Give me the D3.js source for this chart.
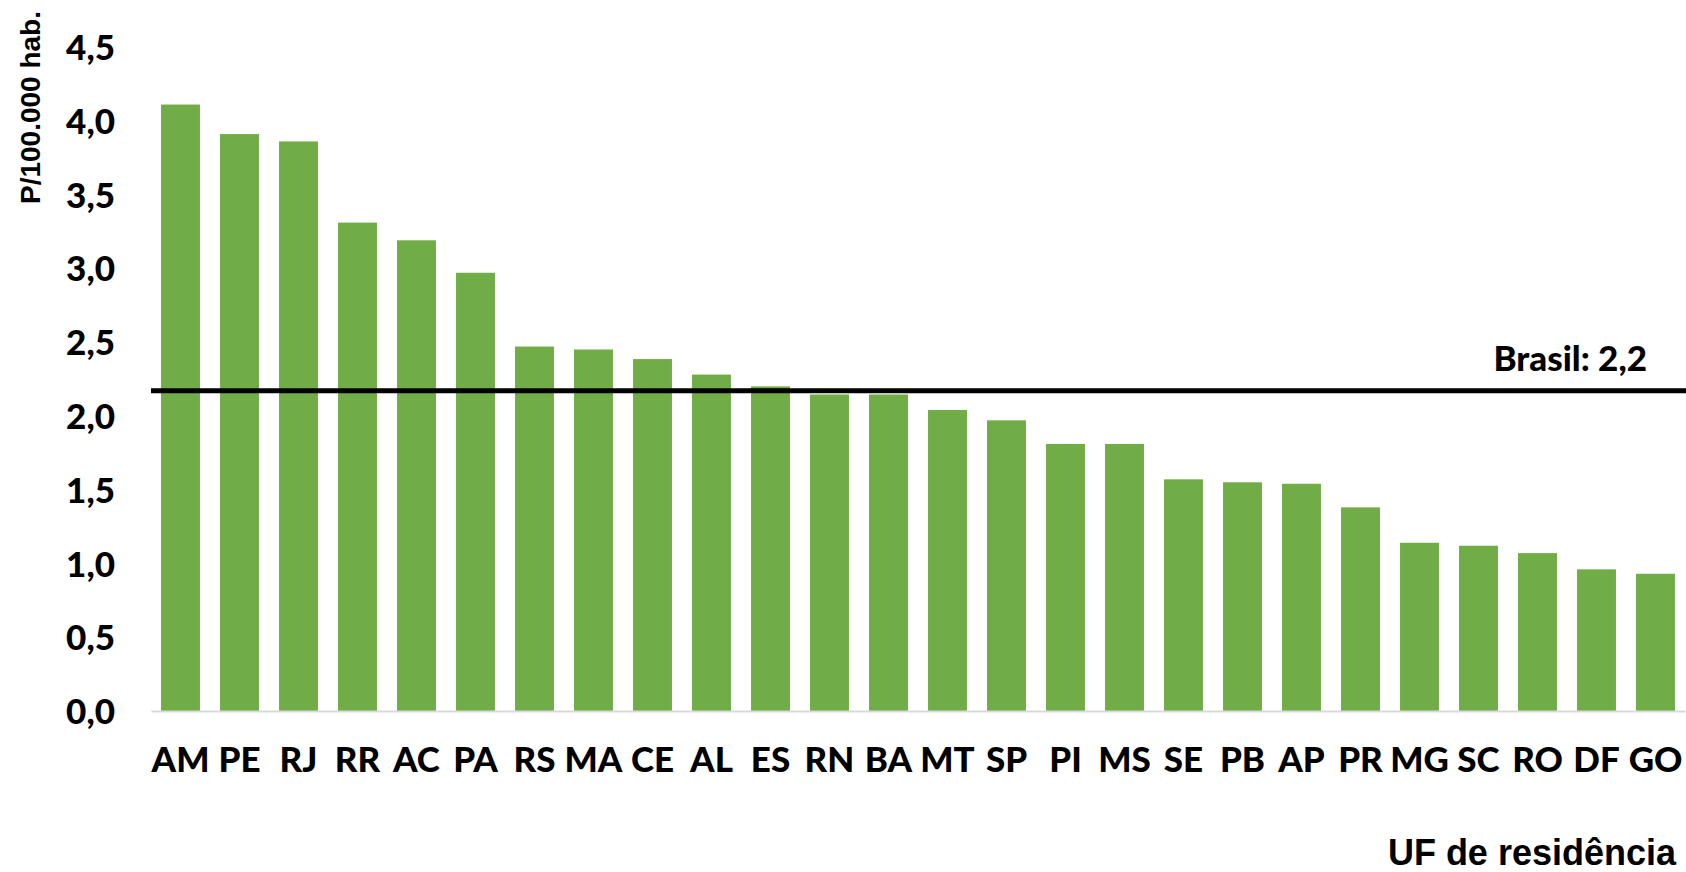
<!DOCTYPE html>
<html>
<head>
<meta charset="utf-8">
<script src="https://cdn.jsdelivr.net/npm/d3@7"></script>
<style>
  body { margin: 0; background: #fff; }
  .axis text { font-family: Lato, "Open Sans", sans-serif; font-weight: 900; font-size: 35px; fill: #000; }
  .title { font-family: "Liberation Sans", Arial, sans-serif; font-weight: bold; fill: #000; }
  .bar { fill: #70ad47; }
</style>
</head>
<body>
<svg width="1686" height="872"></svg>
<script>

var states = ["AM", "PE", "RJ", "RR", "AC", "PA", "RS", "MA", "CE", "AL", "ES", "RN", "BA",
              "MT", "SP", "PI", "MS", "SE", "PB", "AP", "PR", "MG", "SC", "RO", "DF", "GO"];
var rates = [4.11, 3.91, 3.86, 3.31, 3.19, 2.97, 2.47, 2.45, 2.385, 2.28, 2.20, 2.145, 2.145,
             2.04, 1.97, 1.81, 1.81, 1.57, 1.55, 1.54, 1.38, 1.14, 1.12, 1.07, 0.96, 0.93];
var yTicks = [0, 0.5, 1, 1.5, 2, 2.5, 3, 3.5, 4, 4.5];
var brasil = 2.17;
var brasilLabel = "Brasil: 2,2";

var svg = d3.select("svg"),
margin = {top: 47, right: 1, bottom: 161, left: 151},
width = +svg.attr("width") - margin.left - margin.right,
height = +svg.attr("height") - margin.top - margin.bottom;

var data = states.map(function(s, i) { return {state: s, rate: rates[i]}; });

var x = d3.scaleBand().range([0, width]).paddingInner(0.34).paddingOuter(0.17).domain(states),
y = d3.scaleLinear().range([height, 0]).domain([0, 4.5]);

// numbers with comma as decimal separator
var ptBR = d3.formatLocale({decimal: ",", thousands: ".", grouping: [3], currency: ["R$", ""]});

var g = svg.append("g")
.attr("transform", "translate(" + margin.left + "," + margin.top + ")");

g.selectAll(".bar")
.data(data)
.enter().append("rect")
.attr("class", "bar")
.attr("x", function(d) { return x(d.state); })
.attr("y", function(d) { return y(d.rate); })
.attr("width", x.bandwidth())
.attr("height", function(d) { return height - y(d.rate); });

var yAxis = g.append("g")
.attr("class", "axis axis--y")
.call(d3.axisLeft(y).tickValues(yTicks).tickSize(0).tickPadding(36).tickFormat(ptBR.format(".1f")));
yAxis.select(".domain").remove();
yAxis.selectAll("text").attr("dy", "0.36em");

var xAxis = g.append("g")
.attr("class", "axis axis--x")
.attr("transform", "translate(0," + height + ")")
.call(d3.axisBottom(x).tickSize(0));
xAxis.select(".domain").attr("stroke", "#d9d9d9").attr("stroke-width", 2);
xAxis.selectAll("text").attr("y", 61).attr("dy", 0);

// national average line
g.append("line")
.attr("x1", 0)
.attr("x2", width + margin.right)
.attr("y1", y(brasil))
.attr("y2", y(brasil))
.attr("stroke", "#000")
.attr("stroke-width", 5);

g.append("text")
.attr("x", 1647 - margin.left)
.attr("y", y(brasil) - 20)
.attr("text-anchor", "end")
.style("font-family", "Lato, sans-serif")
.style("font-weight", "900")
.style("font-size", "35px")
.text(brasilLabel);

svg.append("text")
.attr("class", "title")
.attr("transform", "rotate(-90)")
.attr("x", -11)
.attr("y", 40)
.attr("text-anchor", "end")
.style("font-size", "28px")
.text("P/100.000 hab.");

svg.append("text")
.attr("class", "title")
.attr("x", 1676)
.attr("y", 865)
.attr("text-anchor", "end")
.style("font-size", "36px")
.text("UF de residência");

</script>
</body>
</html>
